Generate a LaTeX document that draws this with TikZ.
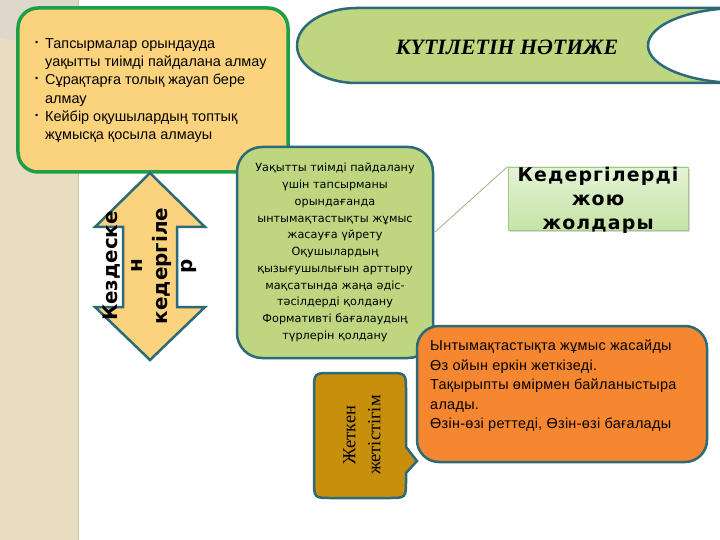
\documentclass[tikz,border=0pt]{standalone}
\usepackage{fontspec}
\setmainfont{Liberation Sans}
\newfontfamily\dejavu{DejaVu Sans}
\newfontfamily\spaceddejavu[LetterSpace=6]{DejaVu Sans}
\newfontfamily\spacedsans[LetterSpace=2]{Liberation Sans}
\newfontfamily\kzserif{Liberation Serif}
\usepackage{tikz}
\usetikzlibrary{positioning}
\usetikzlibrary{shadows}
\usepackage{xcolor}
\definecolor{paper}{HTML}{E9DDC1}
\definecolor{paperlight}{HTML}{DDD8CB}
\definecolor{paperedge}{HTML}{D2C4A4}
\definecolor{softyellow}{HTML}{FCD37D}
\definecolor{boxgreen}{HTML}{1F9E48}
\definecolor{frame}{HTML}{2C6A7A}
\definecolor{leaf}{HTML}{BDD67F}
\definecolor{carrot}{HTML}{F6862F}
\definecolor{gold}{HTML}{C88F0C}
\definecolor{mintlight}{HTML}{E4F3D6}
\definecolor{mintdark}{HTML}{C6E3A6}
\definecolor{mintedge}{HTML}{A3C78A}
\definecolor{callout}{HTML}{A9A88A}

\newcommand{\bul}{\makebox[10bp][l]{\raisebox{3bp}{\fontsize{9}{9}\selectfont •}}}
\newcommand{\bulgap}{\hspace*{10bp}}

\begin{document}
\begin{tikzpicture}[x=1bp, y=-1bp,
    box/.style={draw=frame, line width=2.5bp},
    txt/.style={inner sep=0pt, text=black}]
    \useasboundingbox (0,0) rectangle (720,540);
    \clip (0,0) rectangle (720,540);
    % background
    \fill[white] (0,0) rectangle (720,540);
    \fill[paper] (0,0) rectangle (78,540);
    \fill[paperlight] (0,0) -- (78,0) -- (78,58) .. controls (72,52) and (64,56) .. (58,48) .. controls (48,36) and (20,44) .. (0,38) -- cycle;
    \draw[paperedge, line width=1bp] (78,0) -- (78,540);

    % title banner
    \draw[box, fill=leaf] (357,8) -- (740,8) -- (740,83) -- (357,83) arc[start angle=90, end angle=270, x radius=60, y radius=37.5] -- cycle;
    \draw[box, fill=white] (740,45.5) ellipse [x radius=92, y radius=37.5];
    \node[txt, font=\kzserif\bfseries\itshape\fontsize{22}{26}\selectfont] (title) at (507,47) {КҮТІЛЕТІН НӘТИЖЕ};

    % obstacles
    \node[draw=boxgreen, line width=3.5bp, fill=softyellow, rounded corners=20bp, minimum width=270bp, minimum height=164bp] (obstacles) at (153,90) {};
    \node[txt, anchor=north west, align=left, font=\fontsize{14.5}{18.4}\selectfont] (obstaclestext) at (35,38)
        {\bul Тапсырмалар орындауда\\
         \bulgap уақытты тиімді пайдалана алмау\\
         \bul Сұрақтарға толық жауап бере\\
         \bulgap алмау\\
         \bul Кейбір оқушылардың топтық\\
         \bulgap жұмысқа қосыла алмауы};

    % double arrow
    \draw[box, fill=softyellow] (150,173) -- (205,227) -- (177,227) -- (177,307) -- (205,307) -- (150,360) -- (95,307) -- (123,307) -- (123,227) -- (95,227) -- cycle;
    \node[txt, rotate=90, align=center, font=\dejavu\bfseries\fontsize{20}{25}\selectfont] (encountered) at (150,266) {Кездеске\\н\\кедергіле\\р};

    % methods
    \node[box, fill=leaf, rounded corners=25bp, minimum width=196bp, minimum height=211bp, align=center, font=\dejavu\fontsize{11.3}{16.8}\selectfont] (methods) at (335,252.5)
        {Уақытты тиімді пайдалану\\
         үшін тапсырманы\\
         орындағанда\\
         ынтымақтастықты жұмыс\\
         жасауға үйрету\\
         Оқушылардың\\
         қызығушылығын арттыру\\
         мақсатында жаңа әдіс-\\
         тәсілдерді қолдану\\
         Формативті бағалаудың\\
         түрлерін қолдану};

    % results
    \node[box, fill=carrot, rounded corners=22bp, minimum width=290bp, minimum height=136bp] (results) at (562,394) {};
    \node[txt, anchor=north west, align=left, font=\spacedsans\fontsize{14.5}{19.5}\selectfont] (resultstext) at (430,340)
        {Ынтымақтастықта жұмыс жасайды\\
         Өз ойын еркін жеткізеді.\\
         Тақырыпты өмірмен байланыстыра\\
         алады.\\
         Өзін-өзі реттеді, Өзін-өзі бағалады};

    % ways
    \coordinate (calloutend) at (435,232);
    \node[draw=mintedge, line width=0.8bp, top color=mintlight, bottom color=mintdark, minimum width=180bp, minimum height=63bp, drop shadow={shadow xshift=2bp, shadow yshift=-2bp, opacity=0.3}] (ways) at (598,198.5) {};
    \draw[callout, line width=0.8bp] (ways.north west) -- (calloutend);
    \node[txt, align=center, font=\spaceddejavu\bfseries\fontsize{19}{24}\selectfont] (waystext) at (598,200) {Кедергілерді\\жою\\жолдары};

    % achievement
    \draw[box, fill=gold] (314,391) .. controls (314,373) .. (332,373) -- (388,373) .. controls (406,373) .. (406,391) -- (406,447) -- (417,461) -- (406,473) -- (406,480) .. controls (406,498) .. (388,498) -- (332,498) .. controls (314,498) .. (314,480) -- cycle;
    \node[txt, rotate=90, align=center, font=\kzserif\fontsize{18.5}{25}\selectfont] (achieved) at (362,435) {Жеткен\\жетістігім};
\end{tikzpicture}
\end{document}
